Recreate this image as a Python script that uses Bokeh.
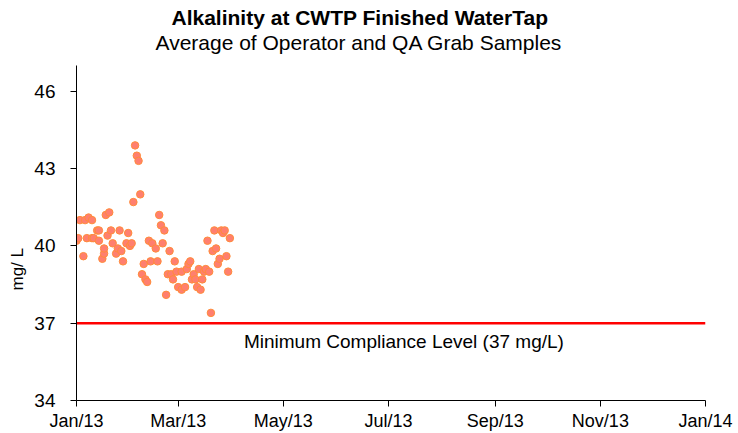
import pandas as pd
from bokeh.plotting import figure
from bokeh.models import Range1d, FixedTicker, DatetimeTickFormatter, Label, Title
from bokeh.embed import file_html
from bokeh.resources import INLINE

# ---------------- data ----------------
sample_dates = [
    "2013-01-01", "2013-01-02", "2013-01-03", "2013-01-05", "2013-01-06", "2013-01-07", "2013-01-08",
    "2013-01-10", "2013-01-10", "2013-01-11", "2013-01-13", "2013-01-14", "2013-01-14", "2013-01-16",
    "2013-01-17", "2013-01-17", "2013-01-18", "2013-01-19", "2013-01-20", "2013-01-21", "2013-01-22",
    "2013-01-24", "2013-01-25", "2013-01-26", "2013-01-27", "2013-01-28", "2013-01-30", "2013-01-31",
    "2013-02-01", "2013-02-02", "2013-02-03", "2013-02-04", "2013-02-05", "2013-02-06", "2013-02-07",
    "2013-02-08", "2013-02-09", "2013-02-10", "2013-02-11", "2013-02-12", "2013-02-13", "2013-02-14",
    "2013-02-16", "2013-02-17", "2013-02-18", "2013-02-19", "2013-02-20", "2013-02-21", "2013-02-22",
    "2013-02-23", "2013-02-24", "2013-02-25", "2013-02-26", "2013-02-27", "2013-02-28",
    "2013-03-01", "2013-03-03", "2013-03-03", "2013-03-05", "2013-03-06", "2013-03-07", "2013-03-08",
    "2013-03-09", "2013-03-10", "2013-03-11", "2013-03-12", "2013-03-13", "2013-03-14", "2013-03-15",
    "2013-03-16", "2013-03-17", "2013-03-18", "2013-03-19", "2013-03-20", "2013-03-21", "2013-03-22",
    "2013-03-23", "2013-03-24", "2013-03-25", "2013-03-26", "2013-03-27", "2013-03-28", "2013-03-29",
    "2013-03-30", "2013-03-31",
]
alkalinity = [
    40.2, 40.3, 41.0, 39.6, 41.0, 40.3, 41.1,
    41.0, 40.3, 40.3, 40.6, 40.2, 40.6, 39.5,
    39.7, 39.9, 41.2, 40.4, 41.3, 40.6, 40.1,
    39.7, 39.9, 40.6, 39.8, 39.4, 40.1, 40.5,
    40.0, 40.1, 41.7, 43.9, 43.5, 43.3, 42.0,
    38.9, 39.3, 38.7, 38.6, 40.2, 39.4, 40.1,
    39.9, 39.4, 41.2, 40.8, 40.1, 40.6, 38.1,
    38.9, 39.8, 38.9, 38.7, 39.4, 39.0,
    38.4, 38.3, 39.0, 38.4, 39.1, 39.3, 39.4,
    38.7, 38.9, 38.7, 38.4, 39.1, 38.3, 38.7,
    39.0, 39.1, 40.2, 39.0, 37.4, 39.8, 40.6,
    39.9, 39.3, 39.5, 40.6, 40.5, 40.6, 39.6,
    39.0, 40.3,
]
limit_dates = ["2013-01-01", "2014-01-01"]
limit_values = [37, 37]
limit_label = "Minimum Compliance Level (37 mg/L)"

x_tick_dates = ["2013-01-01", "2013-03-01", "2013-05-01", "2013-07-01",
                "2013-09-01", "2013-11-01", "2014-01-01"]
y_ticks = [34, 37, 40, 43, 46]
y_min, y_max = 34, 47

title_text = "Alkalinity at CWTP Finished WaterTap"
subtitle_text = "Average of Operator and QA Grab Samples"
y_label = "mg/ L"

FONT = "Liberation Sans"


def ms(d):
    return pd.Timestamp(d).value / 10**6


# ---------------- figure ----------------
x_dt = pd.to_datetime(sample_dates)
lim_dt = pd.to_datetime(limit_dates)

p = figure(width=738, height=433, x_axis_type="datetime",
           output_backend="svg", toolbar_location=None, title=None,
           x_range=Range1d(ms(limit_dates[0]), ms(limit_dates[1])),
           y_range=Range1d(y_min, y_max),
           min_border_left=74, min_border_right=33, min_border_top=65, min_border_bottom=33)

p.outline_line_color = None
p.xgrid.grid_line_color = None
p.ygrid.grid_line_color = None
p.background_fill_color = "white"
p.border_fill_color = "white"

# red compliance line
p.line(lim_dt, limit_values, line_color="#FF0000", line_width=2.5)

# samples
p.scatter(x_dt, alkalinity, size=7.5, fill_color="#FF7F6F", line_color="#FF8C3A",
          line_width=1)

# axes
p.xaxis.ticker = FixedTicker(ticks=[ms(d) for d in x_tick_dates])
fmt = "%b/%y"
p.xaxis.formatter = DatetimeTickFormatter(days=fmt, months=fmt, years=fmt, hours=fmt,
                                          minutes=fmt, seconds=fmt, milliseconds=fmt,
                                          microseconds=fmt, minsec=fmt, hourmin=fmt)
p.yaxis.ticker = FixedTicker(ticks=y_ticks)

for ax in (p.xaxis, p.yaxis):
    ax.axis_line_color = "black"
    ax.axis_line_width = 1
    ax.major_tick_line_color = "black"
    ax.major_tick_out = 6
    ax.major_tick_in = 0
    ax.minor_tick_line_color = None
    ax.major_label_text_font = FONT
    ax.major_label_text_color = "black"

p.xaxis.major_label_text_font_size = "18px"
p.xaxis.major_label_standoff = 4
p.yaxis.major_label_text_font_size = "19px"
p.yaxis.major_label_standoff = 15

# compliance label inside the plot
p.add_layout(Label(x=ms("2013-07-10"), y=36.3,
                   text=limit_label, text_font=FONT, text_font_size="19px",
                   text_align="center", text_baseline="middle", text_color="black"))

# spacer between frame and subtitle, then subtitle, then title
p.add_layout(Title(text=" ", text_font=FONT, text_font_size="1px", standoff=9), "above")
p.add_layout(Title(text=subtitle_text, text_font=FONT, text_font_size="21px",
                   text_font_style="normal", align="left", offset=79, standoff=0,
                   text_color="black"), "above")
p.add_layout(Title(text=title_text, text_font=FONT, text_font_size="21px",
                   text_font_style="bold", align="left", offset=95, standoff=0,
                   text_color="black"), "above")

# y label as a left-side title
p.add_layout(Title(text=y_label, text_font=FONT, text_font_size="17px",
                   text_font_style="normal", align="left", offset=110, standoff=10,
                   text_color="black"), "left")

open("out.html", "w").write(file_html(p, INLINE))
